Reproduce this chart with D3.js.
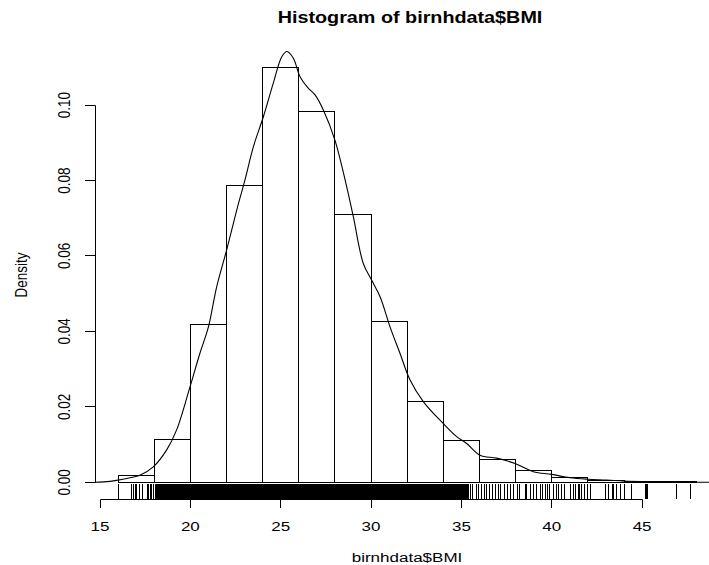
<!DOCTYPE html>
<html>
<head>
<meta charset="utf-8">
<script src="https://cdn.jsdelivr.net/npm/d3@7"></script>
<style>
  body { margin: 0; background: #fff; }
  text { font-family: "Liberation Sans", Arial, Helvetica, sans-serif; fill: #000; }
</style>
</head>
<body>
<div id="chart"></div>
<script>
// histogram bins (breaks of width 2) and their densities
var binStarts = [16, 18, 20, 22, 24, 26, 28, 30, 32, 34, 36, 38, 40, 42, 44, 46];
var binDensity = [0.0017, 0.0114, 0.0419, 0.0788, 0.1100, 0.0984, 0.0711, 0.0426,
                  0.0215, 0.0110, 0.0061, 0.0031, 0.0012, 0.0006, 0.0003, 0.0001];
var binWidth = 2;

// kernel density curve
var densityX = [14.6, 15.2, 15.92, 16.66, 17.21, 17.95, 18.69, 19.24, 19.98, 20.53, 21.0, 21.46,
                22.01, 22.57, 23.02, 23.49, 24.04, 24.59, 25.06, 25.35, 25.70, 26.07, 26.5, 26.9,
                27.36, 28.0, 28.65, 29.02, 29.57, 30.03, 30.50, 31.05, 31.60, 32.16, 32.89, 33.99,
                34.74, 35.29, 36.03, 36.95, 37.97, 38.98, 39.99, 41.01, 42.02, 43.04, 44.02, 45.07,
                46.03, 48.0, 49.5];
var densityY = [0, 0.0001, 0.0005, 0.0012, 0.0019, 0.0041, 0.0086, 0.0139, 0.0253, 0.0342, 0.0412, 0.0519,
                0.0616, 0.0722, 0.0801, 0.0890, 0.0969, 0.1058, 0.1128, 0.1142, 0.1124, 0.1075, 0.1046, 0.1027,
                0.0987, 0.0907, 0.0784, 0.0704, 0.0580, 0.0536, 0.0492, 0.0412, 0.0342, 0.0271, 0.0214, 0.0156,
                0.0121, 0.0103, 0.0072, 0.0064, 0.0050, 0.0028, 0.0021, 0.0012, 0.0008, 0.0006, 0.0003, 0.00016,
                0.0001, 0.00003, 0];

// rug: single ticks where they can be told apart, and the solid band where they can't
var rugValues = [16.0, 16.75, 16.85, 16.94, 17.03, 17.18, 17.34, 17.64, 17.7, 17.78, 17.86, 17.95,
                 35.48, 35.61, 35.81, 35.94, 36.12, 36.27, 36.40, 36.55, 36.73, 36.86, 37.04, 37.17,
                 37.41, 37.54, 37.69, 37.87, 38.09, 38.24, 38.52, 38.61, 38.80, 38.98, 39.17, 39.35,
                 39.50, 39.63, 39.76, 39.90, 40.09, 40.27, 40.36, 40.55, 40.73, 41.01, 41.19, 41.34,
                 41.47, 41.56, 41.66, 41.84, 41.97, 42.12, 43.0, 43.13, 43.35, 43.41, 43.56, 43.78,
                 44.0, 44.39, 45.2, 45.26, 45.31, 46.88, 47.69];
var rugBand = [[18.05, 35.4]];

var xTicks = [15, 20, 25, 30, 35, 40, 45];
var yTicks = [0, 0.02, 0.04, 0.06, 0.08, 0.10];

var titleText = "Histogram of birnhdata$BMI";
var xLabel = "birnhdata$BMI";
var yLabel = "Density";

// the picture is stretched sideways, so horizontal text gets a matching stretch
var stretch = 1.26;

var width = 709, height = 565;

var x = d3.scaleLinear().domain([15, 45]).range([100, 642.1]);
var y = d3.scaleLinear().domain([0, 0.1]).range([482.3, 105.05]);

// snap a position onto the middle of a pixel so 1px lines stay sharp
function crisp(v) { return Math.round(v - 0.5) + 0.5; }

var svg = d3.select("#chart")
  .append("svg")
  .attr("width", width)
  .attr("height", height);

// plot region used for clipping the curve
svg.append("clipPath")
  .attr("id", "plotClip")
  .append("rect")
  .attr("x", 95)
  .attr("y", 48)
  .attr("width", 630)
  .attr("height", 452);

// histogram bars, outlined only
svg.append("g")
  .selectAll("rect")
  .data(binStarts)
  .enter()
  .append("rect")
  .attr("x", function (d) { return crisp(x(d)); })
  .attr("y", function (d, i) { return crisp(y(binDensity[i])); })
  .attr("width", function (d) { return crisp(x(d + binWidth)) - crisp(x(d)); })
  .attr("height", function (d, i) { return crisp(y(0)) - crisp(y(binDensity[i])); })
  .attr("fill", "none")
  .attr("stroke", "#000")
  .attr("stroke-width", 1);

// density line
var line = d3.line()
  .x(function (d) { return x(d[0]); })
  .y(function (d) { return y(d[1]); })
  .curve(d3.curveCatmullRom);

svg.append("path")
  .datum(d3.zip(densityX, densityY))
  .attr("clip-path", "url(#plotClip)")
  .attr("d", line)
  .attr("fill", "none")
  .attr("stroke", "#000")
  .attr("stroke-width", 1.1);

// rug along the bottom of the plot region
var rugBottom = 499, rugTop = 484;
var rug = svg.append("g");
rug.selectAll("rect")
  .data(rugBand)
  .enter()
  .append("rect")
  .attr("x", function (d) { return Math.round(x(d[0])); })
  .attr("y", rugTop)
  .attr("width", function (d) { return Math.round(x(d[1])) - Math.round(x(d[0])); })
  .attr("height", rugBottom - rugTop)
  .attr("fill", "#000");
rug.selectAll("line")
  .data(rugValues)
  .enter()
  .append("line")
  .attr("x1", function (d) { return crisp(x(d)); })
  .attr("x2", function (d) { return crisp(x(d)); })
  .attr("y1", rugTop)
  .attr("y2", rugBottom)
  .attr("stroke", "#000")
  .attr("stroke-width", 1);

// x axis: line between first and last tick, ticks pointing down
var xAxis = svg.append("g");
xAxis.append("line")
  .attr("x1", crisp(x(xTicks[0])))
  .attr("x2", crisp(x(xTicks[xTicks.length - 1])))
  .attr("y1", 499.5)
  .attr("y2", 499.5)
  .attr("stroke", "#000");
xAxis.selectAll(".tick")
  .data(xTicks)
  .enter()
  .append("line")
  .attr("x1", function (d) { return crisp(x(d)); })
  .attr("x2", function (d) { return crisp(x(d)); })
  .attr("y1", 499.5)
  .attr("y2", 508)
  .attr("stroke", "#000");
xAxis.selectAll("text")
  .data(xTicks)
  .enter()
  .append("text")
  .attr("transform", function (d) { return "translate(" + x(d) + ",531) scale(" + stretch + ",1)"; })
  .attr("text-anchor", "middle")
  .style("font-size", "13.5px")
  .text(function (d) { return d; });

// y axis: line from 0 to the top tick, ticks pointing left, labels turned
var yAxis = svg.append("g");
yAxis.append("line")
  .attr("x1", 95.5)
  .attr("x2", 95.5)
  .attr("y1", crisp(y(yTicks[0])))
  .attr("y2", crisp(y(yTicks[yTicks.length - 1])))
  .attr("stroke", "#000");
yAxis.selectAll(".tick")
  .data(yTicks)
  .enter()
  .append("line")
  .attr("x1", 85)
  .attr("x2", 95.5)
  .attr("y1", function (d) { return crisp(y(d)); })
  .attr("y2", function (d) { return crisp(y(d)); })
  .attr("stroke", "#000");
yAxis.selectAll("text")
  .data(yTicks)
  .enter()
  .append("text")
  .attr("transform", function (d) { return "translate(70," + y(d) + ") scale(" + stretch + ",1) rotate(-90)"; })
  .attr("text-anchor", "middle")
  .style("font-size", "13.5px")
  .text(function (d) { return d3.format(".2f")(d); });

// titles
svg.append("text")
  .attr("transform", "translate(410,23) scale(" + stretch + ",1)")
  .attr("text-anchor", "middle")
  .style("font-size", "15.7px")
  .style("font-weight", "bold")
  .text(titleText);

svg.append("text")
  .attr("transform", "translate(407,562) scale(" + stretch + ",1)")
  .attr("text-anchor", "middle")
  .style("font-size", "13.5px")
  .text(xLabel);

svg.append("text")
  .attr("transform", "translate(27,275) scale(" + stretch + ",1) rotate(-90)")
  .attr("text-anchor", "middle")
  .style("font-size", "13.5px")
  .text(yLabel);
</script>
</body>
</html>
